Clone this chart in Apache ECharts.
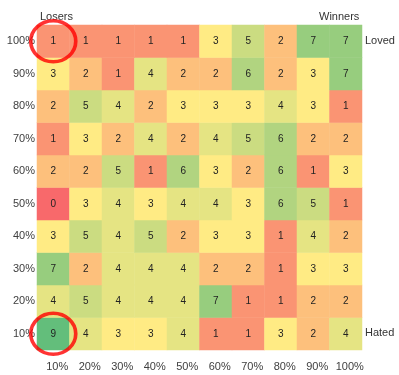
<!DOCTYPE html>
<html>
<head>
<meta charset="utf-8">
<script src="https://cdn.jsdelivr.net/npm/echarts@6/dist/echarts.min.js"></script>
<style>
html,body{margin:0;padding:0;background:#fff;}
#chart{width:399px;height:375px;}
</style>
</head>
<body>
<div id="chart"></div>
<script>
const xLabels = ['10%','20%','30%','40%','50%','60%','70%','80%','90%','100%'];
const yLabels = ['10%','20%','30%','40%','50%','60%','70%','80%','90%','100%'];
// rows, each listed left (10%) to right (100%)
const row100 = [1,1,1,1,1,3,5,2,7,7];
const row90  = [3,2,1,4,2,2,6,2,3,7];
const row80  = [2,5,4,2,3,3,3,4,3,1];
const row70  = [1,3,2,4,2,4,5,6,2,2];
const row60  = [2,2,5,1,6,3,2,6,1,3];
const row50  = [0,3,4,3,4,4,3,6,5,1];
const row40  = [3,5,4,5,2,3,3,1,4,2];
const row30  = [7,2,4,4,4,2,2,1,3,3];
const row20  = [4,5,4,4,4,7,1,1,2,2];
const row10  = [9,4,3,3,4,1,1,3,2,4];
const rowsBottomUp = [row10,row20,row30,row40,row50,row60,row70,row80,row90,row100];
// highlighted cells [xLabel, yLabel]
const circled = [['10%','100%'],['10%','10%']];

const data = [];
rowsBottomUp.forEach((row, yi) => row.forEach((v, xi) => data.push([xi, yi, v])));

const font = 'Liberation Sans, Arial, sans-serif';
const chart = echarts.init(document.getElementById('chart'));
chart.setOption({
  animation: false,
  grid: {left: 37, top: 25, width: 325, height: 325},
  xAxis: {
    type: 'category', data: xLabels,
    axisLine: {show: false}, axisTick: {show: false}, splitLine: {show: false},
    axisLabel: {interval: 0, hideOverlap: false, color: '#404040', fontSize: 11, fontFamily: font, margin: 11, padding: [0,0,0,8]}
  },
  yAxis: {
    type: 'category', data: yLabels,
    axisLine: {show: false}, axisTick: {show: false}, splitLine: {show: false},
    axisLabel: {interval: 0, color: '#404040', fontSize: 11, fontFamily: font, margin: 2, padding: [0,0,15,0]}
  },
  visualMap: {
    type: 'continuous', min: 0, max: 9, show: false, seriesIndex: 0,
    inRange: {color: ['#F8696B','#FA9473','#FDC07C','#FFEB84','#E5E483','#CBDC81','#B1D480','#97CD7E','#7DC57C','#63BE7B']}
  },
  graphic: [
    {type: 'text', left: 40, top: 11, style: {text: 'Losers', fill: '#333', font: '11px ' + font}},
    {type: 'text', left: 319, top: 11, style: {text: 'Winners', fill: '#333', font: '11px ' + font}},
    {type: 'text', left: 365, top: 35, style: {text: 'Loved', fill: '#333', font: '11px ' + font}},
    {type: 'text', left: 365, top: 327, style: {text: 'Hated', fill: '#333', font: '11px ' + font}}
  ],
  series: [
    {
      type: 'heatmap', data: data,
      label: {show: true, color: '#222', fontSize: 10, fontFamily: font},
      itemStyle: {borderWidth: 0},
      emphasis: {disabled: true}
    },
    {
      type: 'scatter', data: circled, symbol: 'circle', symbolSize: [45, 41],
      itemStyle: {color: 'rgba(0,0,0,0)', borderColor: '#FF0000', borderWidth: 3.5},
      z: 5, silent: true
    }
  ]
});
</script>
</body>
</html>
